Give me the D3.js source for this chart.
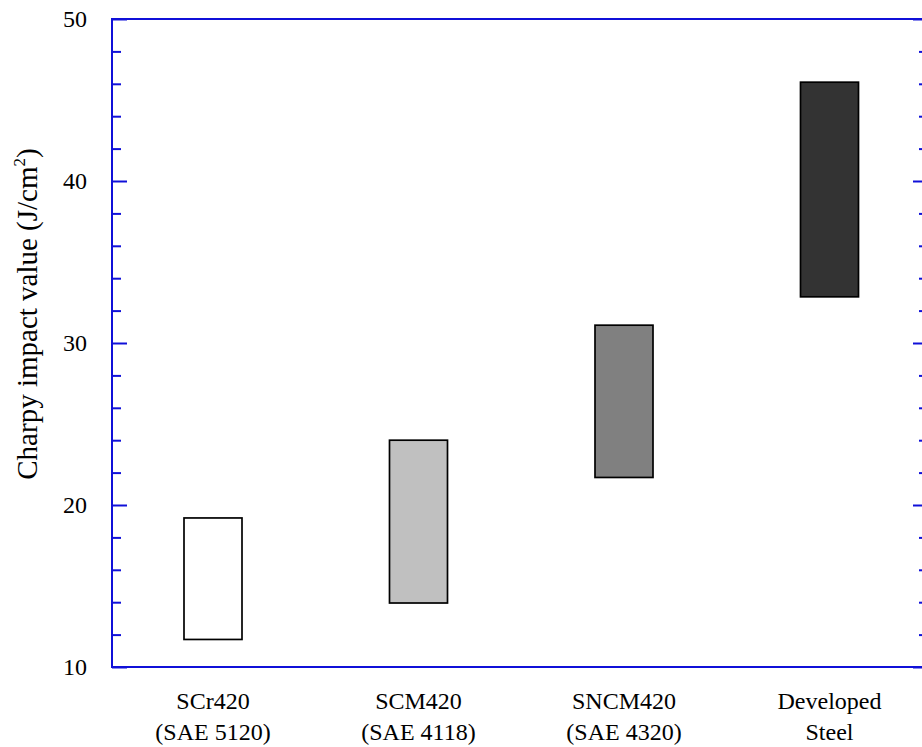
<!DOCTYPE html>
<html>
<head>
<meta charset="utf-8">
<script src="https://cdn.jsdelivr.net/npm/d3@7"></script>
<style>
  html, body { margin: 0; padding: 0; background: #fff; }
  svg { display: block; font-family: "Liberation Serif", "Times New Roman", Tinos, serif; }
  svg text, svg tspan { font-family: "Liberation Serif", "Times New Roman", Tinos, serif !important; }
</style>
</head>
<body style="margin:0">
<svg id="chart" width="922" height="747" style="font-family: 'Liberation Serif', 'Times New Roman', serif"></svg>
<script>
const categories = ["SCr420|(SAE 5120)", "SCM420|(SAE 4118)", "SNCM420|(SAE 4320)", "Developed|Steel"];
const lowValues = [11.7, 13.95, 21.7, 32.85];
const highValues = [19.2, 24.0, 31.1, 46.1];
const fills = ["#ffffff", "#c0c0c0", "#808080", "#333333"];
const majorTicks = [10, 20, 30, 40, 50];
const minorTicks = [12, 14, 16, 18, 22, 24, 26, 28, 32, 34, 36, 38, 42, 44, 46, 48];

(function () {
const FONT = '"Liberation Serif"';
const svg = d3.select("#chart");
const pLeft = 112, pRight = 922, pTop = 19, pBottom = 667;
const axisColor = "#1010d8";

const y = d3.scaleLinear().domain([10, 50]).range([pBottom, pTop]);
const x = d3.scalePoint().domain(categories).range([213, 829.5]);
const barW = 58;

// bars
svg.append("g").selectAll("rect").data(categories).join("rect")
  .attr("x", d => x(d) - barW / 2)
  .attr("y", (d, i) => y(highValues[i]))
  .attr("width", barW)
  .attr("height", (d, i) => y(lowValues[i]) - y(highValues[i]))
  .attr("fill", (d, i) => fills[i])
  .attr("stroke", "#000")
  .attr("stroke-width", 1.7);

// axes frame
const frame = svg.append("g").attr("stroke", axisColor).attr("stroke-width", 2).attr("fill", "none");
frame.append("line").attr("x1", pLeft).attr("x2", pLeft).attr("y1", pTop - 1).attr("y2", pBottom + 1);
frame.append("line").attr("x1", pLeft - 1).attr("x2", pRight).attr("y1", pTop).attr("y2", pTop);
frame.append("line").attr("x1", pLeft - 1).attr("x2", pRight).attr("y1", pBottom).attr("y2", pBottom);

function ticks(gen, tx) {
  const g = svg.append("g").attr("transform", `translate(${tx},0)`).call(gen);
  g.select(".domain").remove();
  g.selectAll(".tick line").attr("stroke", axisColor).attr("stroke-width", 2);
}
ticks(d3.axisRight(y).tickValues(majorTicks).tickSize(15).tickFormat(""), pLeft);
ticks(d3.axisRight(y).tickValues(minorTicks).tickSize(9).tickFormat(""), pLeft);
ticks(d3.axisLeft(y).tickValues(majorTicks).tickSize(15).tickFormat(""), pRight + 6);
ticks(d3.axisLeft(y).tickValues(minorTicks).tickSize(9).tickFormat(""), pRight + 6);

// y tick labels
svg.selectAll("text.ytl").data(majorTicks).join("text")
  .attr("class", "ytl")
  .style("font-family", FONT)
  .style("font-size", "24px")
  .attr("x", 87).attr("y", d => y(d)).attr("dy", "0.34em")
  .attr("text-anchor", "end")
  .text(d => d);

// x category labels
const xl = svg.selectAll("text.xcl").data(categories).join("text")
  .attr("class", "xcl")
  .style("font-family", FONT)
  .style("font-size", "24px")
  .attr("text-anchor", "middle");
xl.each(function(d) {
  const parts = d.split("|");
  const t = d3.select(this);
  t.append("tspan").attr("x", x(d)).attr("y", 709).text(parts[0]);
  t.append("tspan").attr("x", x(d)).attr("y", 740).text(parts[1]);
});

// y axis title
const title = svg.append("text")
  .style("font-family", FONT)
  .style("font-size", "29px")
  .attr("transform", "translate(37,314) rotate(-90)")
  .attr("text-anchor", "middle");
title.append("tspan").text("Charpy impact value (J/cm");
title.append("tspan").attr("dy", -12).style("font-size", "17px").text("2");
title.append("tspan").attr("dy", 12).text(")");
})();
</script>
</body>
</html>
